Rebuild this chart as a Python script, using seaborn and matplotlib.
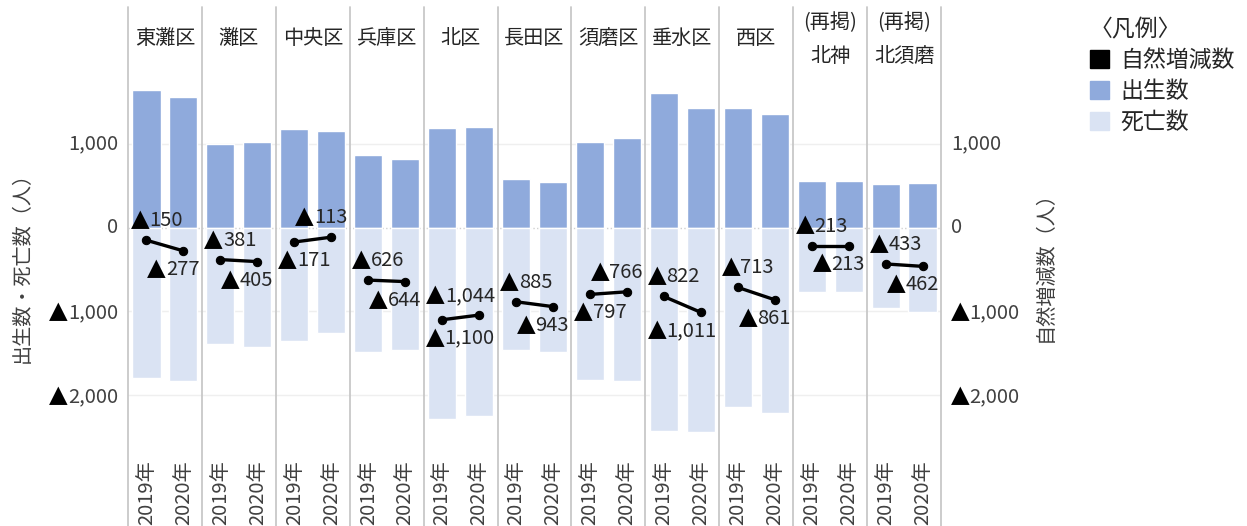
import pandas as pd
import matplotlib.pyplot as plt
import seaborn as sns
from matplotlib.patches import Patch
from matplotlib.offsetbox import TextArea, HPacker, AnnotationBbox
import matplotlib.transforms as mtransforms

# ------------------------------------------------------
# Data
# ------------------------------------------------------
districts = ["東灘区", "灘区", "中央区", "兵庫区", "北区", "長田区",
             "須磨区", "垂水区", "西区", "北神", "北須磨"]
years = ["2019年", "2020年"]

births_2019 = [1650, 1005, 1180, 865, 1190, 578, 1024, 1605, 1425, 555, 525]
births_2020 = [1560, 1020, 1150, 815, 1205, 546, 1070, 1432, 1355, 555, 540]
deaths_2019 = [1800, 1386, 1351, 1491, 2290, 1463, 1821, 2427, 2138, 768, 958]
deaths_2020 = [1837, 1425, 1263, 1459, 2249, 1489, 1836, 2443, 2216, 768, 1002]
natural_2019 = [-150, -381, -171, -626, -1100, -885, -797, -822, -713, -213, -433]
natural_2020 = [-277, -405, -113, -644, -1044, -943, -766, -1011, -861, -213, -462]

axis_ticks = [1000, 0, -1000, -2000]
reprint = ["北神", "北須磨"]  # shown as "(再掲)"

BIRTH_COLOR = "#8faadc"
DEATH_COLOR = "#dae3f3"
TEXT_COLOR = "#404040"
FS = 14.5
TRI_FS = 17.5
PX = 0.72  # points per pixel at dpi 100

# ------------------------------------------------------
# Long table, one row per district/year slot
# ------------------------------------------------------
rows = []
for i, d in enumerate(districts):
    for j, y in enumerate(years):
        rows.append({
            "slot": f"{d}_{y}",
            "pos": 2 * i + j,
            "district": d,
            "year": y,
            "births": [births_2019, births_2020][j][i],
            "deaths": -[deaths_2019, deaths_2020][j][i],
            "natural": [natural_2019, natural_2020][j][i],
        })
df = pd.DataFrame(rows)


def tri_label(ax, xy, value, align, offset_px, xycoords="data", color="#262626"):
    """Number label with a big black ▲ for negative values (Excel style)."""
    parts = []
    if value < 0:
        parts.append(TextArea("▲", textprops=dict(fontsize=TRI_FS, color="black",
                                                  family="DejaVu Sans")))
    parts.append(TextArea(f"{abs(value):,}", textprops=dict(fontsize=FS, color=color)))
    box = HPacker(children=parts, align="baseline", pad=0, sep=0)
    ab = AnnotationBbox(box, xy, xybox=(offset_px[0] * PX, offset_px[1] * PX),
                        xycoords=xycoords, boxcoords="offset points",
                        box_alignment=(align, 0.5), frameon=False, pad=0,
                        annotation_clip=False, zorder=6)
    ax.add_artist(ab)


# ------------------------------------------------------
# Plot
# ------------------------------------------------------
sns.set_theme(style="white")
plt.rcParams["font.family"] = ["Noto Sans CJK JP", "DejaVu Sans"]

fig = plt.figure(figsize=(12.47, 5.26), dpi=100)
ax = fig.add_axes([128 / 1247, 1 - 452 / 526, 813 / 1247, 445 / 526])

sns.barplot(data=df, x="slot", y="births", color=BIRTH_COLOR, saturation=1,
            width=0.76, errorbar=None, ax=ax, zorder=2)
sns.barplot(data=df, x="slot", y="deaths", color=DEATH_COLOR, saturation=1,
            width=0.76, errorbar=None, ax=ax, zorder=2)

ymin, ymax = -2680, 2637
ax.set_ylim(ymin, ymax)
ax.set_xlim(-0.5, 2 * len(districts) - 0.5)

ax.set_yticks(axis_ticks)
ax.set_yticklabels([])
ax.tick_params(axis="y", length=0)
ax.set_xticks(range(len(df)))
ax.set_xticklabels(df["year"], rotation=90, fontsize=FS, color=TEXT_COLOR)
ax.tick_params(axis="x", length=0, pad=6)
ax.set_xlabel("")
ax.set_ylabel("")

for v in [1000, -1000, -2000]:
    ax.axhline(v, color="#efefef", lw=1, zorder=0)
ax.axhline(0, color="#d0d0d0", lw=1, ls=":", zorder=0)
for s in ax.spines.values():
    s.set_visible(False)

# group separators (run down through the year labels)
for k in range(len(districts) + 1):
    ax.axvline(2 * k - 0.5, ymin=-0.2, ymax=1.0, color="#c8c8c8", lw=1.3,
               clip_on=False, zorder=1)

# district headers
trans = mtransforms.blended_transform_factory(ax.transData, ax.transAxes)
for i, d in enumerate(districts):
    xc = 2 * i + 0.5
    if d in reprint:
        ax.text(xc, 0.966, "(再掲)", transform=trans, ha="center", va="center",
                fontsize=FS, color="#262626")
        ax.text(xc, 0.889, d, transform=trans, ha="center", va="center",
                fontsize=FS, color="#262626")
    else:
        ax.text(xc, 0.930, d, transform=trans, ha="center", va="center",
                fontsize=FS, color="#262626")

# natural increase on the right axis
ax2 = ax.twinx()
ax2.set_ylim(ymin, ymax)
sns.lineplot(data=df, x="pos", y="natural", units="district", estimator=None,
             color="black", lw=2.4, marker="o", markersize=6,
             markeredgecolor="black", legend=False, ax=ax2, zorder=5)
ax2.set_xlim(-0.5, 2 * len(districts) - 0.5)
ax2.set_yticks(axis_ticks)
ax2.set_yticklabels([])
ax2.tick_params(axis="y", length=0)
ax2.set_xlabel("")
ax2.set_ylabel("")
for s in ax2.spines.values():
    s.set_visible(False)

# y tick labels on both sides
ytrans = ax.get_yaxis_transform()
for v in axis_ticks:
    tri_label(ax2, (0, v), v, 1.0, (-10, 0), xycoords=ytrans, color=TEXT_COLOR)
    tri_label(ax2, (1, v), v, 0.0, (10, 0), xycoords=ytrans, color=TEXT_COLOR)

# natural increase labels
for i in range(len(districts)):
    a, b = natural_2019[i], natural_2020[i]
    up_a = a >= b
    tri_label(ax2, (2 * i, a), a, 0.0, (-16, 21 if up_a else -17))
    tri_label(ax2, (2 * i + 1, b), b, 1.0, (16, -17 if up_a else 21))

# axis titles
fig.text(22 / 1247, 1 - 262 / 526, "出生数・死亡数（人）", rotation=90,
         ha="center", va="center", fontsize=FS, color=TEXT_COLOR)
fig.text(1045 / 1247, 1 - 262 / 526, "自然増減数（人）", rotation=90,
         ha="center", va="center", fontsize=FS, color=TEXT_COLOR)

# legend
handles = [Patch(color="black"), Patch(color=BIRTH_COLOR), Patch(color=DEATH_COLOR)]
leg = fig.legend(handles, ["自然増減数", "出生数", "死亡数"], loc="upper left",
                 bbox_to_anchor=(1090 / 1247, 1 - 18 / 526), frameon=False,
                 title="〈凡例〉", fontsize=16.5, title_fontsize=16.5,
                 handlelength=0.83, handleheight=0.83, handletextpad=0.48,
                 labelspacing=0.35, borderaxespad=0, borderpad=0)
leg._legend_box.align = "left"
for t in leg.get_texts():
    t.set_color("#262626")
leg.get_title().set_color("#262626")

fig.savefig("out.png", dpi=100)
plt.close(fig)
